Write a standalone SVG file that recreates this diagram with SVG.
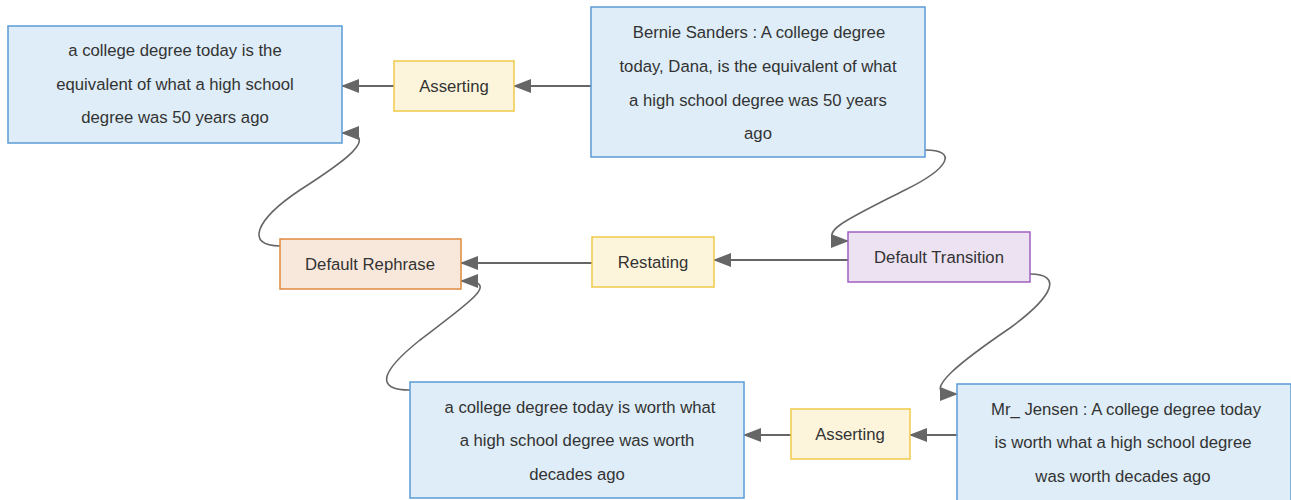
<svg xmlns="http://www.w3.org/2000/svg" width="1291" height="500" viewBox="0 0 1291 500">
<style>
.n rect{stroke-width:1.5}
.stmt rect{fill:#deedf7;stroke:#5b9bd5}
.rel rect{fill:#fcf5dc;stroke:#f0c94a}
.reph rect{fill:#f8e8dc;stroke:#e08a3c}
.trans rect{fill:#ece2f2;stroke:#a15fc2}
text{font-family:"Liberation Sans",Arial,sans-serif;font-size:16.7px;fill:#333;text-anchor:middle}
.e path{fill:none;stroke:#666;stroke-width:2}
.e path.c{stroke-width:1.6}
</style>
<defs>
<marker id="ah" viewBox="0 0 18 14" refX="17" refY="7" markerWidth="18" markerHeight="14" markerUnits="userSpaceOnUse" orient="auto">
<path d="M0,0 L18,7 L0,14 z" fill="#666"/>
</marker>
</defs>
<g id="connectors" class="e">
<path d="M591,86 L514,86" marker-end="url(#ah)"/>
<path d="M394,86 L342,86" marker-end="url(#ah)"/>
<path d="M592,263 L461,263" marker-end="url(#ah)"/>
<path d="M848,260 L714,260" marker-end="url(#ah)"/>
<path d="M957,435 L910,435" marker-end="url(#ah)"/>
<path d="M791,435 L744,435" marker-end="url(#ah)"/>
<path class="c" d="M280,246 C245,246 255,220 300,190 C350,158 372,140 352,133 L342,133" marker-end="url(#ah)"/>
<path class="c" d="M925,150 C958,150 950,168 905,190 C850,218 818,232 838,241 L848,241" marker-end="url(#ah)"/>
<path class="c" d="M1030,274 C1062,274 1055,295 1010,328 C960,362 925,390 947,394 L957,394" marker-end="url(#ah)"/>
<path class="c" d="M410,390 C375,390 380,372 420,340 C470,302 495,285 471,281 L461,281" marker-end="url(#ah)"/>
</g>
<g id="n1" class="n stmt"><rect x="8" y="26" width="334" height="117"/>
<text x="175" y="56">a college degree today is the</text>
<text x="175" y="90">equivalent of what a high school</text>
<text x="175" y="123">degree was 50 years ago</text></g>
<g id="n2" class="n rel"><rect x="394" y="61" width="120" height="50"/><text x="454" y="92">Asserting</text></g>
<g id="n3" class="n stmt"><rect x="591" y="7" width="334" height="150"/>
<text x="759" y="38">Bernie Sanders : A college degree</text>
<text x="758" y="72">today, Dana, is the equivalent of what</text>
<text x="758" y="106">a high school degree was 50 years</text>
<text x="758" y="139">ago</text></g>
<g id="n4" class="n reph"><rect x="280" y="239" width="181" height="50"/><text x="370" y="270">Default Rephrase</text></g>
<g id="n5" class="n rel"><rect x="592" y="237" width="122" height="50"/><text x="653" y="268">Restating</text></g>
<g id="n6" class="n trans"><rect x="848" y="232" width="182" height="50"/><text x="939" y="263">Default Transition</text></g>
<g id="n7" class="n stmt"><rect x="410" y="382" width="334" height="116"/>
<text x="580" y="413">a college degree today is worth what</text>
<text x="577" y="446">a high school degree was worth</text>
<text x="577" y="480">decades ago</text></g>
<g id="n8" class="n rel"><rect x="791" y="409" width="119" height="50"/><text x="850" y="440">Asserting</text></g>
<g id="n9" class="n stmt"><rect x="957" y="384" width="334" height="120"/>
<text x="1126" y="415">Mr_ Jensen : A college degree today</text>
<text x="1123" y="448">is worth what a high school degree</text>
<text x="1123" y="482">was worth decades ago</text></g>
</svg>
